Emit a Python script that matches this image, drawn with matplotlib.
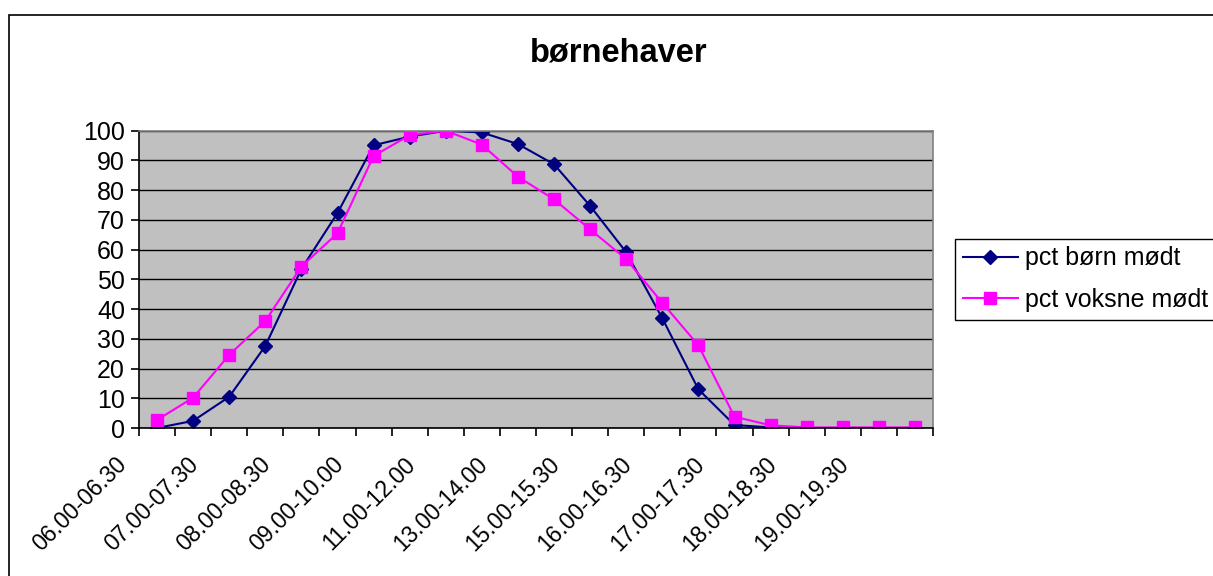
import numpy as np
import matplotlib
matplotlib.use("Agg")
import matplotlib.pyplot as plt
from matplotlib.patches import Rectangle
from matplotlib.transforms import ScaledTranslation

plt.rcParams['font.family'] = ['Liberation Sans', 'DejaVu Sans']

# Data
categories = ['06.00-06.30', '06.30-07.00', '07.00-07.30', '07.30-08.00',
              '08.00-08.30', '08.30-09.00', '09.00-10.00', '10.00-11.00',
              '11.00-12.00', '12.00-13.00', '13.00-14.00', '14.00-15.00',
              '15.00-15.30', '15.30-16.00', '16.00-16.30', '16.30-17.00',
              '17.00-17.30', '17.30-18.00', '18.00-18.30', '18.30-19.00',
              '19.00-19.30', '19.30-20.00']
boern = [0.0, 2.4, 10.5, 27.6, 53.5, 72.3, 95.1, 98.0, 100.0, 99.4, 95.5,
         88.7, 74.7, 59.1, 36.9, 13.0, 1.0, 0.2, 0.0, 0.0, 0.0, 0.0]
voksne = [2.7, 10.2, 24.6, 36.0, 54.3, 65.5, 91.5, 98.5, 100.0, 95.3, 84.5,
          76.9, 66.8, 56.8, 42.1, 27.8, 3.8, 0.9, 0.2, 0.2, 0.2, 0.2]
yticks = list(range(0, 101, 10))

W, H = 1213, 576
fig = plt.figure(figsize=(W / 100, H / 100), dpi=100)

# outer chart frame
fig.patches.append(Rectangle((9 / W, -0.1), 1.2, 1 - 15 / H + 0.1,
                             transform=fig.transFigure, fill=False,
                             edgecolor='black', linewidth=1.2))

ax = fig.add_axes([139 / W, 1 - 428 / H, 794 / W, 297.3 / H])
ax.set_facecolor('#C0C0C0')

x = np.arange(len(categories))
ax.plot(x, boern, color='#000080', marker='D', markersize=7, linewidth=1.5,
        label='pct børn mødt')
ax.plot(x, voksne, color='#FF00FF', marker='s', markersize=8, linewidth=1.5,
        label='pct voksne mødt')

ax.set_xlim(-0.5, len(categories) - 0.5)
ax.set_ylim(0, 100)
ax.set_yticks(yticks)
ax.yaxis.grid(True, color='black', linewidth=1.0)
ax.set_axisbelow(True)
ax.tick_params(axis='y', labelsize=18, length=6, width=1.2, direction='out', pad=4)

# category labels every other, tick marks between categories
ax.set_xticks(x[::2])
ax.set_xticklabels(categories[::2])
ax.set_xticks(np.arange(-0.5, len(categories)), minor=True)
ax.tick_params(axis='x', which='major', length=0, pad=0, labelsize=16.5)
ax.tick_params(axis='x', which='minor', length=6, width=1.2, direction='out')
off = ScaledTranslation(-0.42, -0.25, fig.dpi_scale_trans)
for lbl in ax.get_xticklabels():
    lbl.set_rotation(45)
    lbl.set_ha('right')
    lbl.set_va('top')
    lbl.set_rotation_mode('anchor')
    lbl.set_transform(lbl.get_transform() + off)

for s in ['left', 'bottom']:
    ax.spines[s].set_color('black')
    ax.spines[s].set_linewidth(1.2)
for s in ['top', 'right']:
    ax.spines[s].set_color('#808080')
    ax.spines[s].set_linewidth(1.2)

fig.text(619 / W, 1 - 53 / H, 'børnehaver', ha='center', va='center',
         fontsize=23.5, fontweight='bold')

leg = fig.legend(loc='upper left', bbox_to_anchor=(955 / W, 1 - 239 / H),
                 fontsize=18, frameon=True, fancybox=False, framealpha=1,
                 edgecolor='black', borderpad=0.3, handlelength=2.2,
                 handletextpad=0.3, labelspacing=0.7, borderaxespad=0)
leg.get_frame().set_linewidth(1.0)

fig.savefig('out.png', dpi=100)
